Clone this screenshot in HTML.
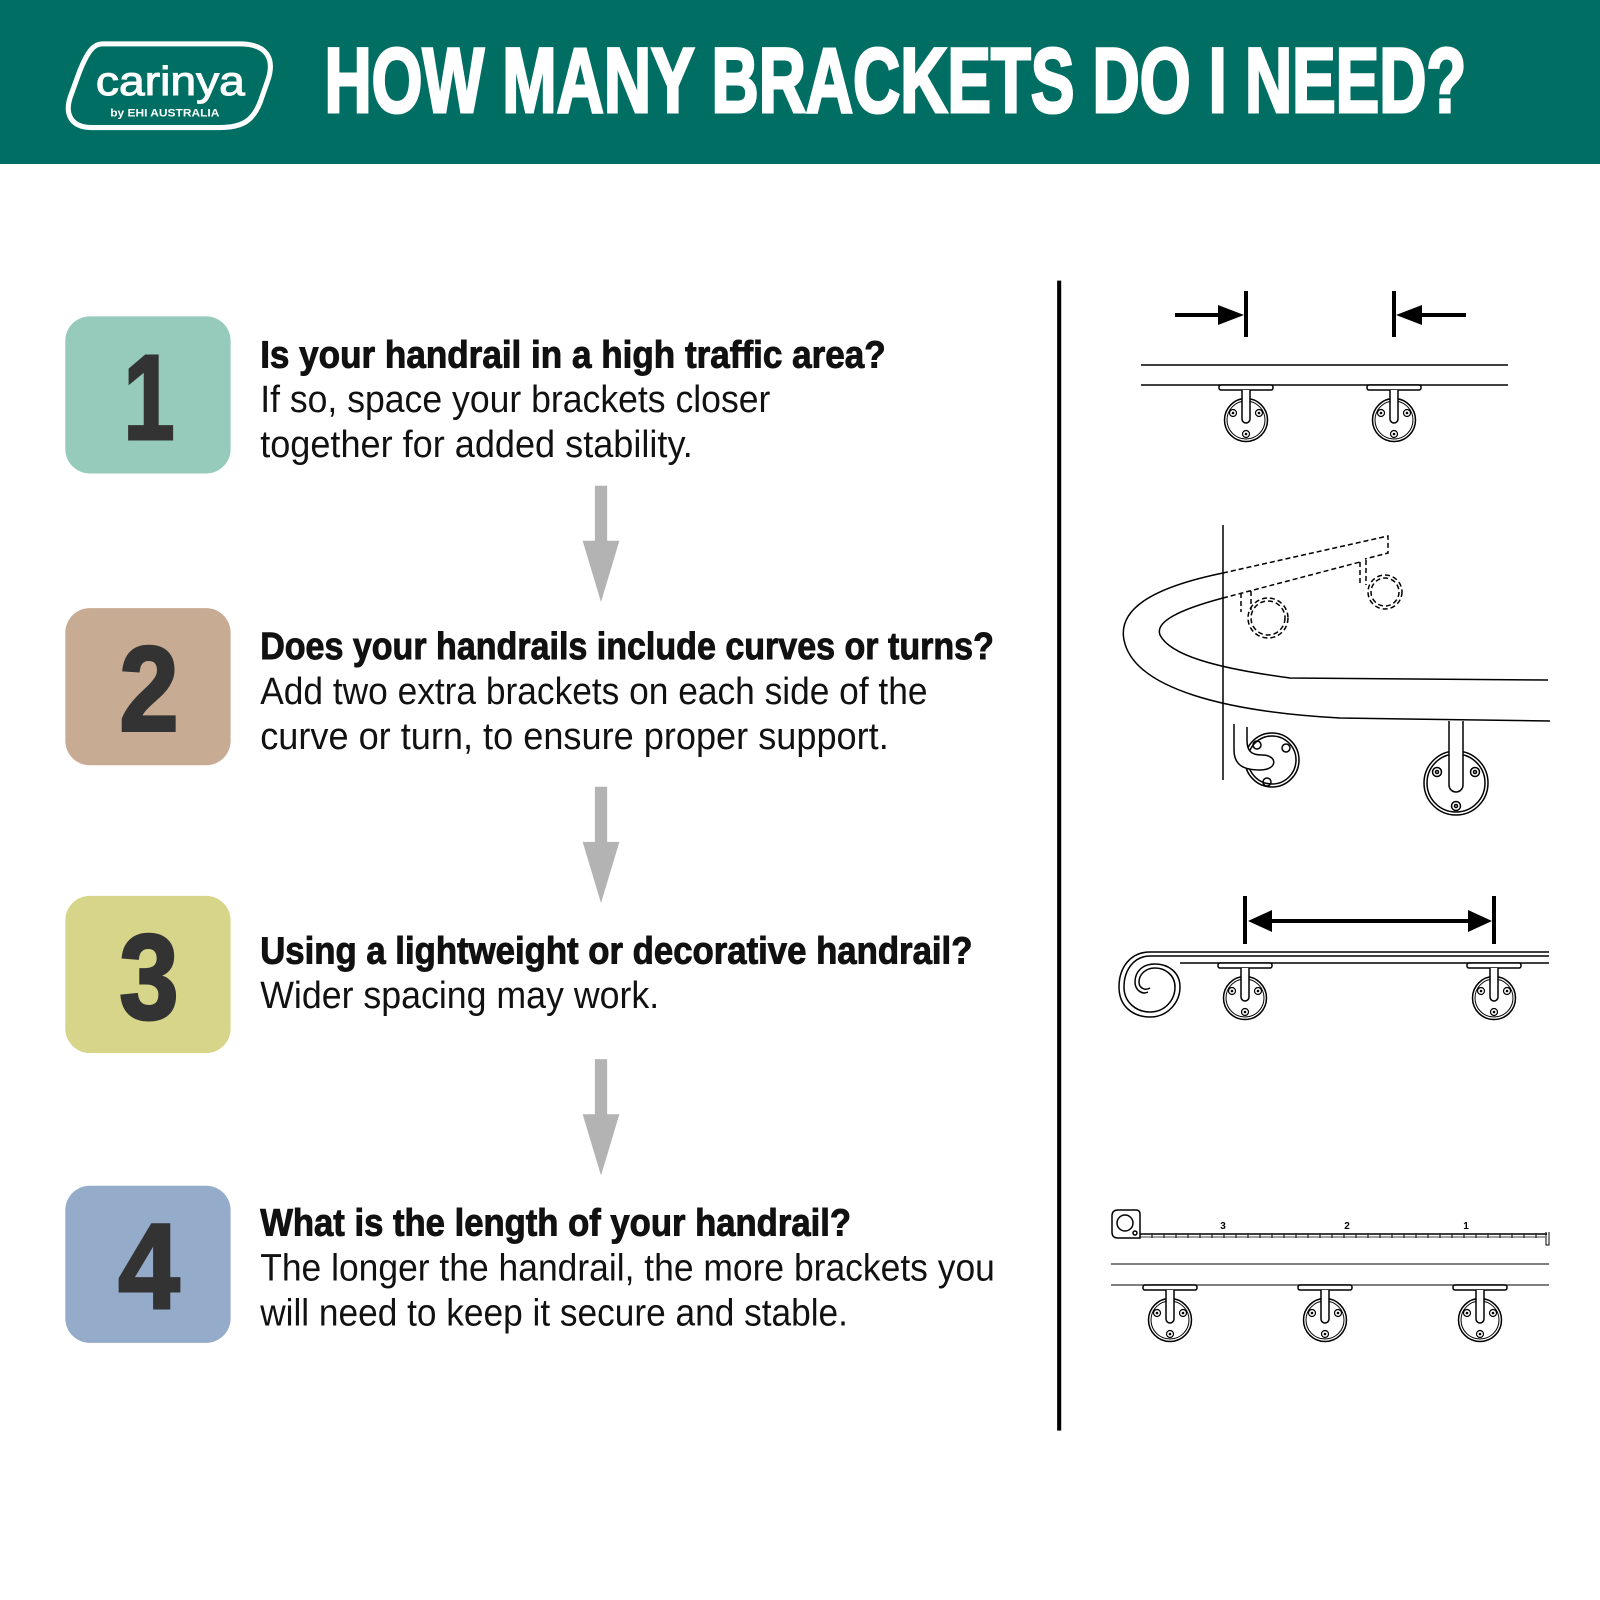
<!DOCTYPE html>
<html><head><meta charset="utf-8"><style>html,body{margin:0;padding:0;background:#fff}svg{display:block}</style></head>
<body>
<svg width="1600" height="1600" viewBox="0 0 1600 1600" xmlns="http://www.w3.org/2000/svg">
<defs>
<g id="br">
  <rect x="-27" y="0" width="54" height="5" rx="2" fill="#fff" stroke="#000" stroke-width="1.5"/>
  <circle cx="0" cy="35" r="21.5" fill="#fff" stroke="#000" stroke-width="1.5"/>
  <circle cx="0" cy="35" r="19" fill="none" stroke="#000" stroke-width="1"/>
  <path d="M-4 5 V34 A4 4 0 0 0 4 34 V5" fill="#fff" stroke="#000" stroke-width="1.5"/>
  <circle cx="-13" cy="28" r="3.5" fill="none" stroke="#000" stroke-width="1.2"/><circle cx="-13" cy="28" r="1.3"/>
  <circle cx="13" cy="28" r="3.5" fill="none" stroke="#000" stroke-width="1.2"/><circle cx="13" cy="28" r="1.3"/>
  <circle cx="0" cy="49" r="3.5" fill="none" stroke="#000" stroke-width="1.2"/><circle cx="0" cy="49" r="1.3"/>
</g>
</defs>
<rect x="0" y="0" width="1600" height="164" fill="#006e62"/>
<g transform="scale(1.0204)">
  <path d="M100 43 H235 C262 43 270 58 262 80 L255 100 C248 118 238 125 215 125 H90 C70 125 62 112 70 92 L78 70 C86 50 92 43 100 43 Z" fill="none" stroke="#fff" stroke-width="5"/>
  <text x="94" y="93" font-family="Liberation Sans, sans-serif" font-size="40" fill="#fff" stroke="#fff" stroke-width="1" textLength="146" lengthAdjust="spacingAndGlyphs">carinya</text>
  <text x="108" y="114" font-family="Liberation Sans, sans-serif" font-weight="bold" font-size="11" fill="#fff" textLength="107" lengthAdjust="spacingAndGlyphs">by EHI AUSTRALIA</text>
  <text x="318" y="110" font-family="Liberation Sans, sans-serif" font-weight="bold" font-size="90" fill="#fff" stroke="#fff" stroke-width="3" textLength="1119" lengthAdjust="spacingAndGlyphs">HOW MANY BRACKETS DO I NEED?</text>

  <g font-family="Liberation Sans, sans-serif">
  <rect x="64" y="310" width="162" height="154" rx="24" fill="#96cbbb"/>
  <rect x="64" y="596" width="162" height="154" rx="24" fill="#c7ab93"/>
  <rect x="64" y="878" width="162" height="154" rx="24" fill="#d6d589"/>
  <rect x="64" y="1162" width="162" height="154" rx="24" fill="#94abc9"/>
  <g font-weight="bold" font-size="118" fill="#333" stroke="#333" stroke-width="3" text-anchor="middle">
    <text x="146" y="430" textLength="50" lengthAdjust="spacingAndGlyphs">1</text>
    <text x="146" y="716" textLength="58" lengthAdjust="spacingAndGlyphs">2</text>
    <text x="146" y="998" textLength="58" lengthAdjust="spacingAndGlyphs">3</text>
    <text x="146" y="1282" textLength="60" lengthAdjust="spacingAndGlyphs">4</text>
  </g>
  <g font-size="37" fill="#111">
    <text x="255" y="360" font-weight="bold" stroke="#111" stroke-width="0.9" textLength="613" lengthAdjust="spacingAndGlyphs">Is your handrail in a high traffic area?</text>
    <text x="255" y="404" textLength="500" lengthAdjust="spacingAndGlyphs">If so, space your brackets closer</text>
    <text x="255" y="448" textLength="424" lengthAdjust="spacingAndGlyphs">together for added stability.</text>
    <text x="255" y="646" font-weight="bold" stroke="#111" stroke-width="0.9" textLength="719" lengthAdjust="spacingAndGlyphs">Does your handrails include curves or turns?</text>
    <text x="255" y="690" textLength="654" lengthAdjust="spacingAndGlyphs">Add two extra brackets on each side of the</text>
    <text x="255" y="734" textLength="616" lengthAdjust="spacingAndGlyphs">curve or turn, to ensure proper support.</text>
    <text x="255" y="944" font-weight="bold" stroke="#111" stroke-width="0.9" textLength="698" lengthAdjust="spacingAndGlyphs">Using a lightweight or decorative handrail?</text>
    <text x="255" y="988" textLength="391" lengthAdjust="spacingAndGlyphs">Wider spacing may work.</text>
    <text x="255" y="1211" font-weight="bold" stroke="#111" stroke-width="0.9" textLength="579" lengthAdjust="spacingAndGlyphs">What is the length of your handrail?</text>
    <text x="255" y="1255" textLength="720" lengthAdjust="spacingAndGlyphs">The longer the handrail, the more brackets you</text>
    <text x="255" y="1299" textLength="576" lengthAdjust="spacingAndGlyphs">will need to keep it secure and stable.</text>
  </g>
  </g>
  <g fill="#b3b3b3">
    <rect x="583" y="476" width="12" height="56"/><path d="M571 530 H607 L589 590 Z"/>
    <rect x="583" y="771" width="12" height="56"/><path d="M571 825 H607 L589 885 Z"/>
    <rect x="583" y="1038" width="12" height="56"/><path d="M571 1092 H607 L589 1152 Z"/>
  </g>
  <rect x="1036" y="275" width="4" height="1127" fill="#000"/>
</g>

<!-- diagram 1 -->
<g stroke="#000" fill="none">
  <line x1="1175" y1="315" x2="1225" y2="315" stroke-width="4"/>
  <path d="M1218 305 L1244 315 L1218 325 Z" fill="#000" stroke="none"/>
  <line x1="1246" y1="291" x2="1246" y2="337" stroke-width="4"/>
  <line x1="1394" y1="291" x2="1394" y2="337" stroke-width="4"/>
  <line x1="1415" y1="315" x2="1466" y2="315" stroke-width="4"/>
  <path d="M1422 305 L1396 315 L1422 325 Z" fill="#000" stroke="none"/>
  <line x1="1141" y1="365" x2="1508" y2="365" stroke-width="1.5"/>
  <line x1="1141" y1="385" x2="1508" y2="385" stroke-width="1.5"/>
</g>
<use href="#br" x="1246" y="385"/>
<use href="#br" x="1394" y="385"/>

<!-- diagram 2 -->
<g stroke="#000" fill="none" stroke-width="1.5">
  <line x1="1223" y1="525" x2="1223" y2="780"/>
  <path d="M1223 573 C1150 588 1118 610 1124 640 C1134 690 1230 712 1340 718 L1550 721"/>
  <path d="M1223 598 C1178 610 1155 622 1160 635 C1170 655 1215 668 1290 678 L1548 680"/>
  <g stroke-dasharray="5 3">
    <path d="M1223 573 L1388 536 V553 L1365 559"/>
    <path d="M1223 598 L1360 562"/>
    <path d="M1241 593 V612 M1251 591 V610 M1360 562 V585 M1366 560 V585"/>
    <circle cx="1268" cy="618" r="20"/><circle cx="1268" cy="618" r="17"/>
    <circle cx="1385" cy="592" r="17"/><circle cx="1385" cy="592" r="14"/>
  </g>
  <circle cx="1272" cy="760" r="27" fill="#fff"/><circle cx="1272" cy="760" r="24"/>
  <path d="M1234 724 V750 C1234 766 1245 770 1260 770 C1278 770 1278 755 1262 755 C1250 755 1247 750 1247 740 V727" fill="#fff"/>
  <circle cx="1257" cy="745" r="4"/><circle cx="1286" cy="748" r="4"/><circle cx="1267" cy="782" r="4"/>
  <circle cx="1456" cy="783" r="32" fill="#fff"/><circle cx="1456" cy="783" r="29"/>
  <path d="M1449 721 V785 A7 7 0 0 0 1463 785 V721" fill="#fff"/>
  <circle cx="1437" cy="772" r="4.5"/><circle cx="1475" cy="772" r="4.5"/><circle cx="1456" cy="806" r="4.5"/>
  <circle cx="1437" cy="772" r="1.5"/><circle cx="1475" cy="772" r="1.5"/><circle cx="1456" cy="806" r="1.5"/>
</g>

<!-- diagram 3 -->
<g stroke="#000" fill="none">
  <line x1="1245" y1="896" x2="1245" y2="944" stroke-width="4"/>
  <line x1="1494" y1="896" x2="1494" y2="944" stroke-width="4"/>
  <line x1="1265" y1="921" x2="1475" y2="921" stroke-width="4"/>
  <path d="M1272 910 L1248 921 L1272 932 Z" fill="#000" stroke="none"/>
  <path d="M1468 910 L1492 921 L1468 932 Z" fill="#000" stroke="none"/>
  <g stroke-width="1.5">
    <path d="M1549 952 H1150 C1130 952 1119 968 1119 987 C1119 1008 1135 1017 1150 1017 C1168 1017 1180 1002 1180 987 C1180 972 1168 964 1155 964 C1142 964 1135 972 1135 982 C1135 990 1142 995 1148 992"/>
    <path d="M1549 956 H1150 C1134 956 1124 970 1124 987 C1124 1003 1137 1012 1150 1012 C1165 1012 1175 1000 1175 987 C1175 975 1165 968 1155 968 C1145 968 1139 975 1139 982 C1139 988 1145 991 1150 988"/>
    <line x1="1180" y1="963" x2="1549" y2="963"/>
  </g>
</g>
<use href="#br" x="1245" y="963"/>
<use href="#br" x="1494" y="963"/>

<!-- diagram 4 -->
<g stroke="#000" fill="none" stroke-width="1.5">
  <path d="M1118 1210 H1136 Q1140 1210 1140 1214 V1238 H1118 Q1112 1238 1112 1232 V1216 Q1112 1210 1118 1210 Z"/>
  <circle cx="1125" cy="1223" r="8"/>
  <circle cx="1135" cy="1233" r="2"/>
  <line x1="1140" y1="1234" x2="1547" y2="1234"/>
  <path d="M1546 1232 V1245 H1549 V1232" stroke-width="1"/>
  <path d="M1140 1237 H1545" stroke-width="0.8"/>
  <g stroke-width="1">
    <path d="M1152 1234v4M1164 1234v4M1176 1234v4M1188 1234v4M1200 1234v4M1212 1234v4M1224 1234v4M1236 1234v4M1248 1234v4M1260 1234v4M1272 1234v4M1284 1234v4M1296 1234v4M1308 1234v4M1320 1234v4M1332 1234v4M1344 1234v4M1356 1234v4M1368 1234v4M1380 1234v4M1392 1234v4M1404 1234v4M1416 1234v4M1428 1234v4M1440 1234v4M1452 1234v4M1464 1234v4M1476 1234v4M1488 1234v4M1500 1234v4M1512 1234v4M1524 1234v4M1536 1234v4"/>
  </g>
  <line x1="1111" y1="1264" x2="1549" y2="1264" stroke="#555"/>
  <line x1="1111" y1="1285" x2="1549" y2="1285" stroke="#555"/>
</g>
<g font-family="Liberation Sans, sans-serif" font-weight="bold" font-size="10" text-anchor="middle">
  <text x="1223" y="1229">3</text><text x="1347" y="1229">2</text><text x="1466" y="1229">1</text>
</g>
<use href="#br" x="1170" y="1285"/>
<use href="#br" x="1325" y="1285"/>
<use href="#br" x="1480" y="1285"/>
</svg>
</body></html>
